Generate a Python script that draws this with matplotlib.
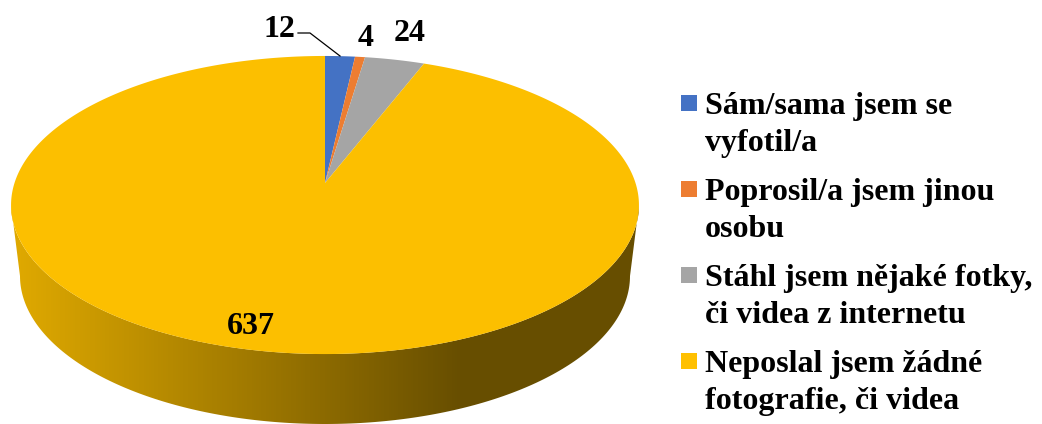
import numpy as np
import matplotlib
matplotlib.use('Agg')
import matplotlib.pyplot as plt
from matplotlib.colors import LinearSegmentedColormap
from matplotlib.patches import Polygon, Rectangle
from matplotlib.path import Path
from matplotlib.transforms import Affine2D, Transform

# Data
labels = ['Sám/sama jsem se\nvyfotil/a', 'Poprosil/a jsem jinou\nosobu',
          'Stáhl jsem nějaké fotky,\nči videa z internetu',
          'Neposlal jsem žádné\nfotografie, či videa']
values = [12, 4, 24, 637]
colors = ['#4472C4', '#ED7D31', '#A5A5A5', '#FCBF00']

plt.rcParams['font.family'] = ['Liberation Serif', 'DejaVu Serif']
plt.rcParams['font.weight'] = 'bold'
plt.rcParams['font.size'] = 23


class Tilt(Transform):
    # perspective view of the unit circle, output in image pixels
    input_dims = output_dims = 2

    def transform_non_affine(self, xy):
        xy = np.asarray(xy)
        d = 1 + 0.1477 * xy[:, 1]
        return np.column_stack([325 + 310.5 * xy[:, 0] / d, 183 - 145.8 * xy[:, 1] / d])

    def transform_path_non_affine(self, path):
        # flatten at a large scale so the rim stays smooth
        p = path.transformed(Affine2D().scale(5000)).to_polygons(closed_only=True)[0] / 5000
        return Path(self.transform_non_affine(p))


fig = plt.figure(figsize=(10.42, 4.24), dpi=100)
ax = fig.add_axes([0, 0, 1, 1])

wedges, _ = ax.pie(values, colors=colors, startangle=90, counterclock=False, radius=1)
ax.set_aspect('auto')
ax.set_xlim(0, 1042)
ax.set_ylim(424, 0)
ax.axis('off')
tilt = Tilt() + ax.transData
for w in wedges:
    w.set_transform(tilt)
    w.set_zorder(3)

# side of the disc, shaded from left to right
t = np.linspace(0, np.pi, 200)
lower = np.column_stack([325 - 305 * np.cos(t), 276 + 148 * np.sin(t)])
ts = np.linspace(np.pi, 2 * np.pi, 200)
upper = np.column_stack([325 + 314 * np.cos(ts), 205 - 149 * np.sin(ts)])
side = Polygon(np.vstack([upper, lower[::-1]]), closed=True, transform=ax.transData, fc='none', ec='none')
ax.add_patch(side)
shade = LinearSegmentedColormap.from_list('shade', [(0, '#E0AA00'), (0.72, '#674E00'), (1, '#674E00')])
im = ax.imshow(np.linspace(0, 1, 628).reshape(1, -1), cmap=shade, extent=(11, 639, 424, 190),
               aspect='auto', zorder=2)
im.set_clip_path(side)
ax.set_xlim(0, 1042)
ax.set_ylim(424, 0)

# value labels
ax.text(279, 37, '12', ha='center', va='baseline', zorder=5)
ax.text(366, 46, '4', ha='center', va='baseline', zorder=5)
ax.text(410, 41, '24', ha='center', va='baseline', zorder=5)
ax.text(251, 334, '637', ha='center', va='baseline', zorder=5)
ax.plot([298, 310, 340], [33, 33, 56], color='black', lw=0.9, zorder=5)

# legend
box_y = [95, 181, 267, 353]
text_y = [151, 237, 323, 409]
for lab, c, by, ty in zip(labels, ['#4472C4', '#ED7D31', '#A5A5A5', '#FFC000'], box_y, text_y):
    ax.add_patch(Rectangle((681, by), 16, 16, fc=c, ec='none', zorder=5))
    ax.text(705, ty, lab, ha='left', va='baseline', linespacing=1.36, zorder=5)

fig.savefig('out.png', dpi=100)
